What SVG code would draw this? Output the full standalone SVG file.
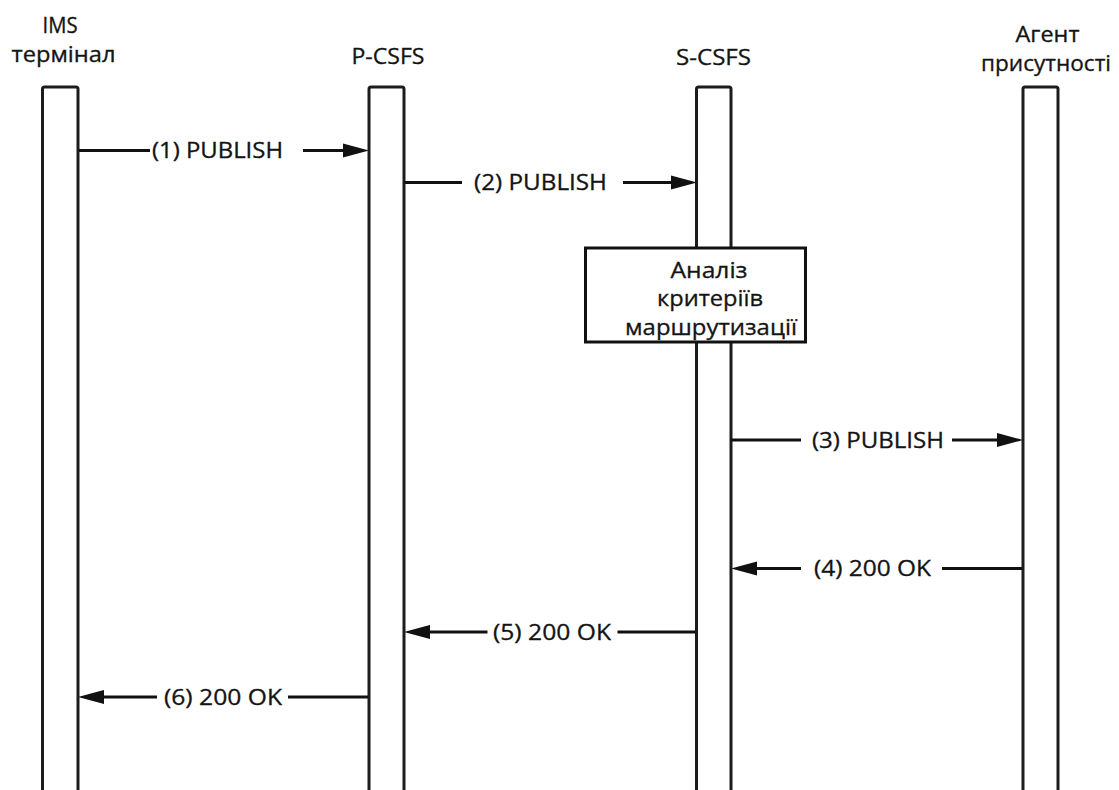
<svg xmlns="http://www.w3.org/2000/svg" width="1119" height="790" viewBox="0 0 1119 790">
<style>
  .lbl { font-family: "Open Sans", "Noto Sans", "Liberation Sans", sans-serif; font-size: 21px; fill: #141414; text-anchor: middle; stroke: #141414; stroke-width: 0.3; }
  .life { fill: #ffffff; stroke: #1c1c1c; stroke-width: 3; }
  .msg { fill: none; stroke: #111111; stroke-width: 3; }
  .box { fill: #ffffff; stroke: #111111; stroke-width: 3; }
</style>
<defs>
  <marker id="arr" markerUnits="userSpaceOnUse" markerWidth="26" markerHeight="15" viewBox="0 0 24 13" refX="12" refY="6.5" orient="auto">
    <path d="M0,0 L24,6.5 L0,13 Z" fill="#111111"/>
  </marker>
</defs>
<rect width="1119" height="790" fill="#ffffff"/>

<g id="ims-terminal">
  <rect class="life" x="42.5" y="87" width="35.5" height="710" rx="2"/>
  <text class="lbl" x="60" y="32.5" textLength="35" lengthAdjust="spacingAndGlyphs">IMS</text>
  <text class="lbl" x="63.5" y="62" textLength="104" lengthAdjust="spacingAndGlyphs">термінал</text>
</g>
<g id="p-csfs">
  <rect class="life" x="369" y="87" width="35" height="710" rx="2"/>
  <text class="lbl" x="388" y="63.5" textLength="73" lengthAdjust="spacingAndGlyphs">P-CSFS</text>
</g>
<g id="s-csfs">
  <rect class="life" x="696.5" y="87" width="34.5" height="710" rx="2"/>
  <text class="lbl" x="713.5" y="65" textLength="75" lengthAdjust="spacingAndGlyphs">S-CSFS</text>
</g>
<g id="presence-agent">
  <rect class="life" x="1023" y="87" width="35" height="710" rx="2"/>
  <text class="lbl" x="1047.5" y="41.5" textLength="64" lengthAdjust="spacingAndGlyphs">Агент</text>
  <text class="lbl" x="1046" y="71" textLength="130" lengthAdjust="spacingAndGlyphs">присутності</text>
</g>

<g id="routing-analysis">
  <rect class="box" x="585.5" y="248" width="220" height="94"/>
  <text class="lbl" x="709" y="278" textLength="77" lengthAdjust="spacingAndGlyphs">Аналіз</text>
  <text class="lbl" x="710" y="306" textLength="106" lengthAdjust="spacingAndGlyphs">критеріїв</text>
  <text class="lbl" x="711" y="335" textLength="172" lengthAdjust="spacingAndGlyphs">маршрутизації</text>
</g>

<g id="connectors">
  <path class="msg" d="M79,150.5 H150 M303,150.5 H356" marker-end="url(#arr)"/>
  <text class="lbl" x="217.5" y="158" textLength="131" lengthAdjust="spacingAndGlyphs">(1) PUBLISH</text>

  <path class="msg" d="M405,182.5 H462 M623,182.5 H684" marker-end="url(#arr)"/>
  <text class="lbl" x="540.5" y="190" textLength="133" lengthAdjust="spacingAndGlyphs">(2) PUBLISH</text>

  <path class="msg" d="M731,440 H801 M952,440 H1010" marker-end="url(#arr)"/>
  <text class="lbl" x="878" y="447.5" textLength="132" lengthAdjust="spacingAndGlyphs">(3) PUBLISH</text>

  <path class="msg" d="M1022,568.5 H942 M801,568.5 H744" marker-end="url(#arr)"/>
  <text class="lbl" x="872.5" y="576" textLength="117" lengthAdjust="spacingAndGlyphs">(4) 200 OK</text>

  <path class="msg" d="M696,632 H617.5 M487.5,632 H417" marker-end="url(#arr)"/>
  <text class="lbl" x="552" y="639.5" textLength="118" lengthAdjust="spacingAndGlyphs">(5) 200 OK</text>

  <path class="msg" d="M368,697 H288 M157,697 H91" marker-end="url(#arr)"/>
  <text class="lbl" x="223" y="704.5" textLength="118" lengthAdjust="spacingAndGlyphs">(6) 200 OK</text>
</g>
</svg>
